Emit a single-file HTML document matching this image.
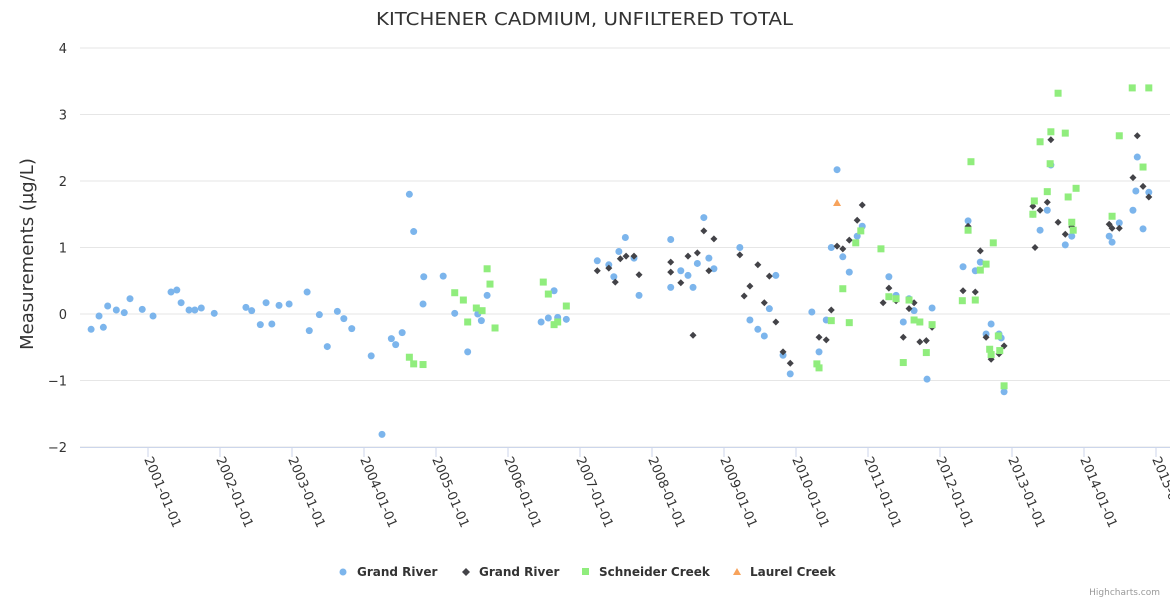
<!DOCTYPE html>
<html><head><meta charset="utf-8"><style>
body{margin:0;background:#fff;font-family:"DejaVu Sans",sans-serif;}
svg{display:block}
</style></head><body>
<svg id="chart" width="1170" height="600" xmlns="http://www.w3.org/2000/svg" font-family="DejaVu Sans, sans-serif">
<text x="376" y="25" font-size="18" fill="#333" textLength="417" lengthAdjust="spacingAndGlyphs">KITCHENER CADMIUM, UNFILTERED TOTAL</text>
<g id="grid"></g>
<g id="yticks"></g>
<g id="xticks"></g>
<text transform="translate(33,254) rotate(-90)" text-anchor="middle" font-size="18" fill="#333">Measurements (µg/L)</text>
<g id="marks"></g>
<g font-size="12" font-weight="bold" fill="#333">
 <g><circle cx="343" cy="572" r="3.5" fill="#7cb5ec"/><text x="357" y="576">Grand River</text></g>
 <g><path d="M466 568 L470 572 L466 576 L462 572Z" fill="#434348"/><text x="479" y="576">Grand River</text></g>
 <g><rect x="582" y="568" width="7" height="7" fill="#90ed7d"/><text x="599" y="576">Schneider Creek</text></g>
 <g><path d="M737 568 L741 575 L733 575Z" fill="#f7a35c"/><text x="750" y="576">Laurel Creek</text></g>
</g>
<text x="1160" y="595" text-anchor="end" font-size="9" fill="#999">Highcharts.com</text>
</svg>
<script>
const yTicks=[-2,-1,0,1,2,3,4];
const xTickYears=[2001,2002,2003,2004,2005,2006,2007,2008,2009,2010,2011,2012,2013,2014,2015];
const grandRiverA=[[2000.21,-0.23],[2000.32,-0.03],[2000.38,-0.2],[2000.44,0.12],[2000.56,0.06],[2000.67,0.02],[2000.75,0.23],[2000.92,0.07],[2001.07,-0.03],[2001.32,0.33],[2001.40,0.36],[2001.46,0.17],[2001.57,0.06],[2001.65,0.06],[2001.74,0.09],[2001.92,0.01],[2002.36,0.1],[2002.44,0.05],[2002.56,-0.16],[2002.64,0.17],[2002.72,-0.15],[2002.82,0.13],[2002.96,0.15],[2003.21,0.33],[2003.24,-0.25],[2003.38,-0.01],[2003.49,-0.49],[2003.63,0.04],[2003.72,-0.07],[2003.83,-0.22],[2004.10,-0.63],[2004.25,-1.81],[2004.38,-0.37],[2004.44,-0.46],[2004.53,-0.28],[2004.63,1.8],[2004.69,1.24],[2004.82,0.15],[2004.83,0.56],[2005.10,0.57],[2005.26,0.01],[2005.44,-0.57],[2005.58,0.0],[2005.63,-0.1],[2005.71,0.28],[2006.46,-0.12],[2006.56,-0.06],[2006.64,0.35],[2006.69,-0.05],[2006.81,-0.08],[2007.24,0.8],[2007.40,0.74],[2007.47,0.56],[2007.54,0.94],[2007.63,1.15],[2007.75,0.84],[2007.82,0.28],[2008.26,1.12],[2008.26,0.4],[2008.40,0.65],[2008.50,0.58],[2008.57,0.4],[2008.63,0.76],[2008.72,1.45],[2008.79,0.84],[2008.86,0.68],[2009.22,1.0],[2009.36,-0.09],[2009.47,-0.23],[2009.56,-0.33],[2009.63,0.08],[2009.72,0.58],[2009.82,-0.62],[2009.92,-0.9],[2010.22,0.03],[2010.32,-0.57],[2010.42,-0.09],[2010.49,1.0],[2010.57,2.17],[2010.65,0.86],[2010.74,0.63],[2010.85,1.17],[2010.92,1.32],[2011.29,0.56],[2011.39,0.28],[2011.49,-0.12],[2011.57,0.23],[2011.64,0.05],[2011.82,-0.98],[2011.89,0.09],[2012.32,0.71],[2012.39,1.4],[2012.49,0.65],[2012.56,0.78],[2012.64,-0.3],[2012.71,-0.15],[2012.82,-0.3],[2012.85,-0.36],[2012.89,-1.17],[2013.29,1.5],[2013.39,1.26],[2013.49,1.56],[2013.54,2.24],[2013.74,1.04],[2013.83,1.17],[2014.35,1.17],[2014.39,1.08],[2014.49,1.37],[2014.68,1.56],[2014.72,1.85],[2014.74,2.36],[2014.82,1.28],[2014.90,1.83]];
const grandRiverB=[[2007.24,0.65],[2007.40,0.69],[2007.49,0.48],[2007.56,0.83],[2007.64,0.87],[2007.75,0.87],[2007.82,0.59],[2008.26,0.78],[2008.26,0.63],[2008.40,0.47],[2008.50,0.87],[2008.57,-0.32],[2008.63,0.92],[2008.72,1.25],[2008.79,0.65],[2008.86,1.13],[2009.22,0.89],[2009.28,0.27],[2009.36,0.42],[2009.47,0.74],[2009.56,0.17],[2009.63,0.57],[2009.72,-0.12],[2009.82,-0.57],[2009.92,-0.74],[2010.32,-0.35],[2010.42,-0.39],[2010.49,0.06],[2010.57,1.02],[2010.65,0.98],[2010.74,1.11],[2010.85,1.41],[2010.92,1.64],[2011.21,0.17],[2011.29,0.39],[2011.39,0.2],[2011.49,-0.35],[2011.57,0.08],[2011.64,0.17],[2011.72,-0.42],[2011.81,-0.4],[2011.89,-0.2],[2012.32,0.35],[2012.39,1.32],[2012.49,0.33],[2012.56,0.95],[2012.64,-0.35],[2012.71,-0.68],[2012.82,-0.6],[2012.89,-0.48],[2013.29,1.62],[2013.32,1.0],[2013.39,1.56],[2013.49,1.68],[2013.54,2.62],[2013.64,1.38],[2013.74,1.2],[2013.83,1.31],[2014.35,1.35],[2014.39,1.29],[2014.49,1.29],[2014.68,2.05],[2014.74,2.68],[2014.82,1.92],[2014.90,1.76]];
const schneiderCreek=[[2004.63,-0.65],[2004.69,-0.75],[2004.82,-0.76],[2005.26,0.32],[2005.38,0.21],[2005.44,-0.12],[2005.56,0.09],[2005.64,0.05],[2005.71,0.68],[2005.75,0.45],[2005.82,-0.21],[2006.49,0.48],[2006.56,0.3],[2006.64,-0.16],[2006.69,-0.12],[2006.81,0.12],[2010.29,-0.75],[2010.32,-0.81],[2010.49,-0.1],[2010.65,0.38],[2010.74,-0.13],[2010.83,1.07],[2010.90,1.25],[2011.18,0.98],[2011.29,0.26],[2011.39,0.23],[2011.49,-0.73],[2011.57,0.21],[2011.64,-0.09],[2011.72,-0.12],[2011.81,-0.58],[2011.89,-0.16],[2012.31,0.2],[2012.39,1.26],[2012.43,2.29],[2012.49,0.21],[2012.56,0.66],[2012.64,0.75],[2012.69,-0.53],[2012.71,-0.61],[2012.74,1.07],[2012.81,-0.33],[2012.83,-0.55],[2012.89,-1.08],[2013.29,1.5],[2013.31,1.7],[2013.39,2.59],[2013.49,1.84],[2013.53,2.26],[2013.54,2.74],[2013.64,3.32],[2013.74,2.72],[2013.78,1.76],[2013.83,1.38],[2013.85,1.26],[2013.89,1.89],[2014.39,1.47],[2014.49,2.68],[2014.67,3.4],[2014.82,2.21],[2014.90,3.4]];
const laurelCreek=[[2010.57,1.67]];

const NS='http://www.w3.org/2000/svg';
const xs=t=>148+(t-2001)*72;
const ys=v=>314-v*66.5;
function mk(tag,attrs,parent){const e=document.createElementNS(NS,tag);for(const k in attrs)e.setAttribute(k,attrs[k]);parent.appendChild(e);return e;}
const grid=document.getElementById('grid'),yt=document.getElementById('yticks'),xt=document.getElementById('xticks'),marks=document.getElementById('marks');
yTicks.forEach(v=>{
  const l=mk('line',{x1:80,x2:1170,y1:ys(v),y2:ys(v),stroke:'#e6e6e6','stroke-width':1},grid);
  
  
  const t=mk('text',{x:67,y:ys(v)+5,'text-anchor':'end','font-size':13,fill:'#333'},yt);
  
  
  t.textContent=v<0?'\u2212'+Math.abs(v):String(v);
});
const ax=mk('line',{x1:80,x2:1170,y1:447.5,y2:447.5,stroke:'#ccd6eb','stroke-width':1},grid);


xTickYears.forEach(y=>{
  const x=xs(y);
  const tk=mk('line',{x1:x,x2:x,y1:447,y2:457,stroke:'#ccd6eb'},grid);
  
  
  const t=mk('text',{x:0,y:0,'font-size':13,fill:'#333',transform:`translate(${x-4},${459}) rotate(67)`},xt);
  
  
  t.textContent=y+'-01-01';
});
grandRiverA.forEach(p=>{
  const c=mk('circle',{cx:xs(p[0]),cy:ys(p[1]),r:3.5,fill:'#7cb5ec'},marks);
  
  
});
grandRiverB.forEach(p=>{
  const x=xs(p[0]),y=ys(p[1]);
  const d=mk('path',{d:`M${x} ${y-3.5}L${x+3.5} ${y}L${x} ${y+3.5}L${x-3.5} ${y}Z`,fill:'#434348'},marks);
  
  
});
schneiderCreek.forEach(p=>{
  const r=mk('rect',{x:xs(p[0])-3.5,y:ys(p[1])-3.5,width:7,height:7,fill:'#90ed7d'},marks);
  
  
});
laurelCreek.forEach(p=>{
  const x=xs(p[0]),y=ys(p[1]);
  const t=mk('path',{d:`M${x} ${y-4}L${x+4} ${y+3}L${x-4} ${y+3}Z`,fill:'#f7a35c'},marks);
  
  
});
</script>
</body></html>
